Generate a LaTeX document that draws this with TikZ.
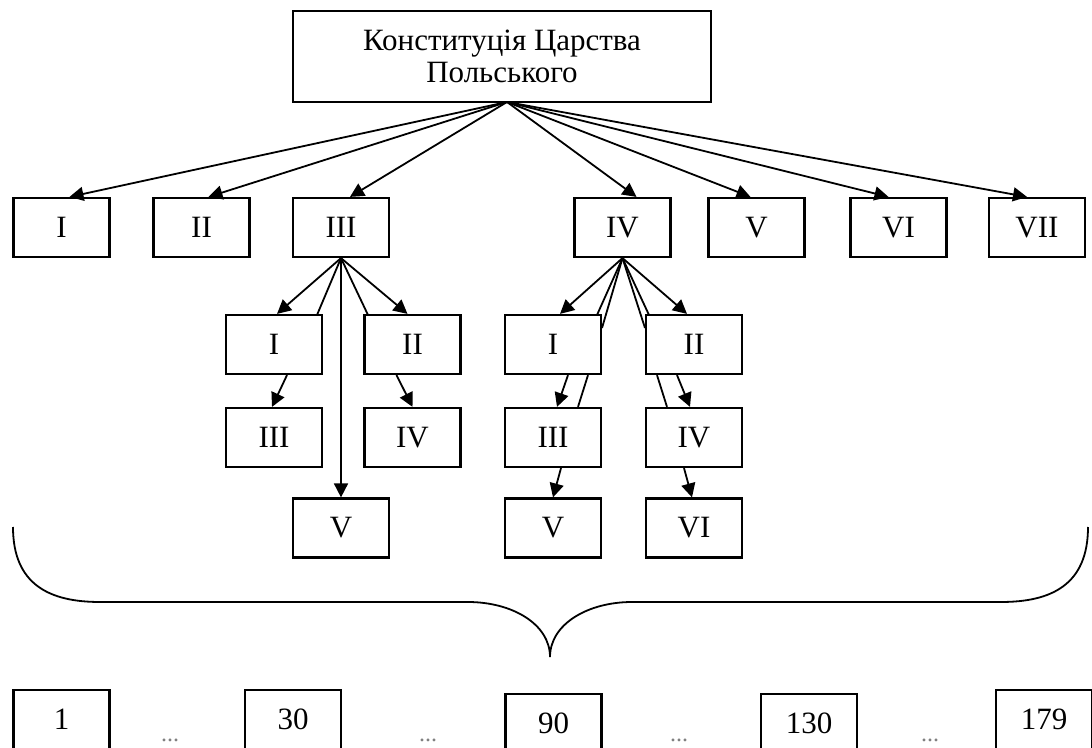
\documentclass[tikz,border=0pt]{standalone}
\usepackage{fontspec}
\setmainfont{Liberation Serif}
\usetikzlibrary{arrows.meta}

\tikzset{
  box/.style={draw, line width=1.1pt, fill=white, inner sep=0pt,
    minimum width=48pt, minimum height=29.5pt,
    font=\fontsize{15.5}{16}\selectfont},
  arr/.style={-{Triangle[length=7pt,width=7pt]}, line width=0.9pt},
  stub/.style={line width=0.9pt},
}

\begin{document}
\begin{tikzpicture}[x=0.5pt, y=-0.5pt]
\useasboundingbox (0,0) rectangle (1092,748);
\clip (0,0) rectangle (1092,748);

% title
\node[box, minimum width=209pt, minimum height=45.5pt, align=center]
  (konst) at (502,56.5) {Конституція Царства\\Польського};
\coordinate (hub) at (507,102);

% parts
\foreach \n/\x/\t in {1/61.5/I, 2/201.5/II, 3/341/III, 4/622.5/IV,
                      5/756.5/V, 6/898.5/VI, 7/1037/VII}
  \node[box] (p\n) at (\x,227.5) {\t};
\foreach \n/\d in {1/4, 2/3.5, 3/4.5, 4/7, 5/-3, 6/-5, 7/-5}
  \draw[arr] (hub) -- ([xshift=\d*1pt]p\n.north);

% sections of part III
\node[box] (p3 s1) at (274,344.5) {I};
\node[box] (p3 s2) at (412.5,344.5) {II};
\node[box] (p3 s3) at (274,437.5) {III};
\node[box] (p3 s4) at (412.5,437.5) {IV};
\node[box] (p3 s5) at (341,528) {V};

\draw[stub] (p3.south) -- (317,315);
\draw[stub] (p3.south) -- (368,315);
\draw[arr] (p3.south) -- ([xshift=1.5pt]p3 s1.north);
\draw[arr] (p3.south) -- ([xshift=-2.5pt]p3 s2.north);
\draw[arr] (p3.south) -- (p3 s5.north);
\draw[arr] ([xshift=6.5pt]p3 s1.south) -- ([xshift=-1pt]p3 s3.north);
\draw[arr] ([xshift=-8pt]p3 s2.south) -- (p3 s4.north);

% sections of part IV
\node[box] (p4 s1) at (553,344.5) {I};
\node[box] (p4 s2) at (694,344.5) {II};
\node[box] (p4 s3) at (553,437.5) {III};
\node[box] (p4 s4) at (694,437.5) {IV};
\node[box] (p4 s5) at (553,528) {V};
\node[box] (p4 s6) at (694,528) {VI};

\draw[stub] (p4.south) -- (597,315);
\draw[stub] (p4.south) -- (602,328);
\draw[stub] (p4.south) -- (649,315);
\draw[stub] (p4.south) -- (645,328);
\draw[arr] (p4.south) -- ([xshift=3.5pt]p4 s1.north);
\draw[arr] (p4.south) -- ([xshift=-3.5pt]p4 s2.north);
\draw[arr] ([xshift=7.5pt]p4 s1.south) -- ([xshift=2pt]p4 s3.north);
\draw[stub] ([xshift=17.5pt]p4 s1.south) -- ([xshift=12.5pt]p4 s3.north);
\draw[stub] ([xshift=-18.5pt]p4 s2.south) -- ([xshift=-13.5pt]p4 s4.north);
\draw[arr] ([xshift=-8.5pt]p4 s2.south) -- ([xshift=-2pt]p4 s4.north);
\draw[arr] ([xshift=4pt]p4 s3.south) -- (p4 s5.north);
\draw[arr] ([xshift=-5pt]p4 s4.south) -- ([xshift=-1pt]p4 s6.north);

% brace
\draw[line width=0.9pt] (13,527) .. controls (13,585) and (50,602) .. (100,602)
  -- (468,602) .. controls (512,602) and (550,624) .. (550,657)
  .. controls (550,624) and (588,602) .. (632,602)
  -- (1001,602) .. controls (1051,602) and (1088,585) .. (1088,527);

% articles
\node[box] (a1) at (61.5,719.5) {1};
\node[box] (a30) at (293,719.5) {30};
\node[box] (a90) at (553.5,723.5) {90};
\node[box] (a130) at (809,723.5) {130};
\node[box] (a179) at (1044,719.5) {179};
\foreach \x in {170,428,679,930}
  \node[anchor=base, inner sep=0pt, text=gray, font=\fontsize{12}{12}\selectfont] at (\x,741) {...};

\end{tikzpicture}
\end{document}
